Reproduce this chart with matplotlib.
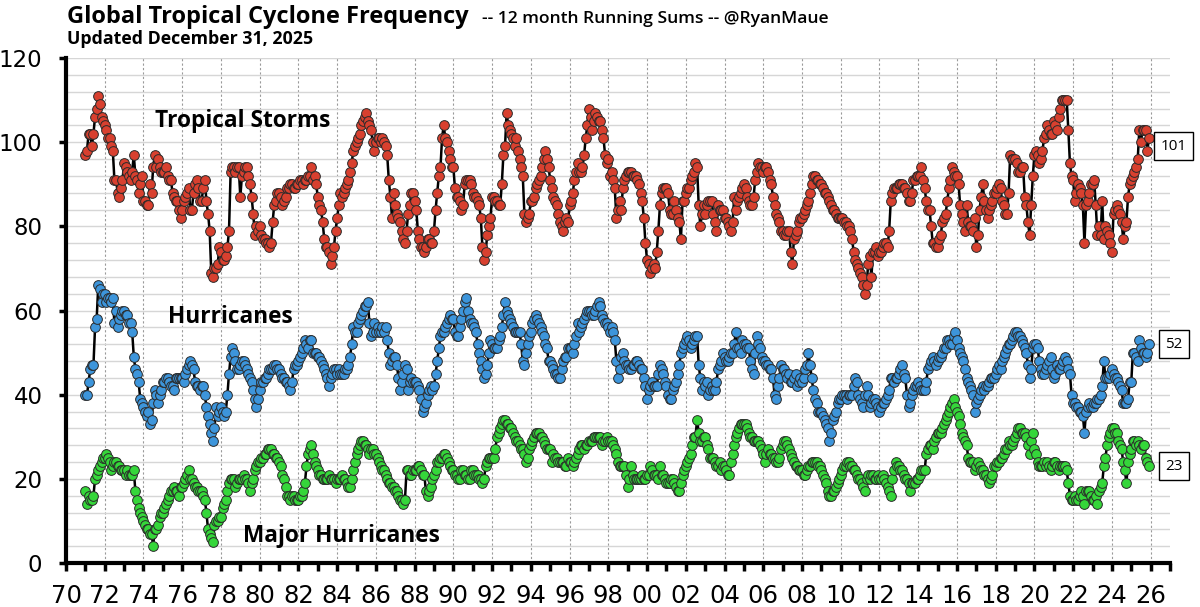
import numpy as np
import matplotlib
matplotlib.use('Agg')
from matplotlib import pyplot as plt
from matplotlib.ticker import MultipleLocator, FixedLocator

# 12 month running sums, monthly, Jan 1971 .. Dec 2025 (one row per year)
start_year = 1971

tropical_storms = [
    97, 98, 102, 102, 99, 102, 106, 108, 111, 109, 106, 105,   # 1971
    104, 103, 101, 101, 99, 98, 91, 91, 88, 87, 89, 91,
    95, 94, 93, 92, 91, 93, 97, 92, 91, 88, 90, 92,
    86, 86, 85, 85, 90, 88, 94, 97, 94, 96, 94, 93,
    93, 93, 94, 92, 91, 91, 88, 87, 86, 86, 84, 82,           # 1975
    84, 86, 87, 88, 89, 84, 84, 88, 90, 91, 89, 86,
    86, 89, 91, 86, 83, 79, 69, 68, 70, 70, 71, 75,
    74, 72, 72, 73, 75, 79, 93, 94, 94, 93, 94, 94,
    87, 92, 93, 94, 94, 92, 90, 87, 83, 78, 80, 79,
    80, 78, 77, 77, 76, 76, 75, 76, 81, 85, 86, 88,           # 1980
    88, 87, 85, 86, 87, 89, 89, 90, 90, 89, 89, 90,
    90, 91, 91, 90, 91, 91, 92, 92, 94, 91, 92, 90,
    87, 85, 84, 81, 77, 75, 75, 74, 71, 73, 75, 79,
    82, 85, 88, 87, 88, 89, 90, 91, 93, 95, 98, 99,
    100, 101, 102, 104, 105, 106, 107, 105, 104, 103, 100, 98, # 1985
    100, 101, 101, 100, 101, 100, 99, 97, 91, 87, 82, 88,
    85, 83, 82, 81, 79, 77, 76, 79, 83, 85, 88, 88,
    86, 84, 79, 77, 75, 75, 74, 75, 77, 77, 76, 76,
    79, 84, 88, 92, 94, 101, 104, 101, 100, 98, 96, 94,
    94, 89, 87, 87, 86, 84, 85, 90, 91, 91, 91, 90,           # 1990
    88, 87, 87, 86, 85, 82, 75, 72, 74, 78, 80, 82,
    87, 87, 86, 86, 85, 85, 90, 97, 99, 107, 104, 103,
    102, 101, 99, 101, 98, 96, 94, 92, 83, 81, 82, 83,
    86, 86, 87, 89, 90, 91, 92, 94, 96, 98, 96, 94,
    91, 89, 87, 86, 85, 83, 81, 80, 79, 81, 82, 81,           # 1995
    85, 86, 88, 91, 93, 95, 93, 93, 94, 97, 101, 104,
    108, 106, 103, 105, 107, 106, 105, 105, 103, 101, 97, 95,
    96, 92, 93, 91, 89, 82, 84, 86, 84, 89, 91, 92,
    93, 93, 93, 92, 92, 92, 91, 90, 88, 86, 82, 76,
    72, 71, 69, 70, 71, 70, 74, 79, 85, 88, 89, 89,           # 2000
    89, 88, 84, 83, 83, 86, 84, 82, 81, 77, 86, 86,
    88, 89, 89, 91, 92, 93, 95, 94, 85, 80, 83, 85,
    83, 85, 86, 86, 86, 83, 81, 79, 85, 84, 84, 84,
    82, 82, 81, 80, 79, 81, 87, 84, 86, 87, 88, 89,
    90, 89, 87, 86, 85, 85, 87, 91, 93, 95, 94, 94,           # 2005
    93, 94, 94, 93, 91, 90, 87, 85, 83, 82, 81, 79,
    79, 78, 78, 79, 79, 74, 71, 77, 78, 79, 81, 82,
    82, 83, 84, 85, 86, 88, 90, 92, 92, 91, 91, 90,
    90, 89, 88, 88, 87, 86, 85, 84, 84, 83, 82, 82,
    82, 82, 81, 81, 80, 80, 79, 77, 74, 72, 71, 70,           # 2010
    69, 68, 66, 64, 66, 71, 73, 68, 74, 74, 75, 73,
    74, 74, 75, 76, 76, 75, 79, 86, 88, 89, 89, 89,
    90, 90, 90, 89, 89, 88, 86, 86, 88, 91, 91, 92,
    92, 92, 94, 91, 89, 86, 84, 84, 80, 76, 76, 75,
    75, 77, 78, 81, 82, 83, 86, 89, 91, 94, 93, 92,           # 2015
    92, 90, 85, 83, 81, 79, 85, 81, 80, 80, 79, 82,
    75, 78, 84, 87, 90, 86, 84, 82, 84, 85, 86, 88,
    88, 89, 90, 89, 86, 85, 83, 83, 88, 97, 96, 96,
    96, 95, 93, 93, 94, 94, 87, 85, 81, 78, 85, 92,
    97, 98, 97, 95, 96, 98, 101, 102, 104, 103, 102, 102,     # 2020
    105, 104, 103, 106, 108, 110, 110, 110, 110, 103, 95, 92,
    91, 86, 88, 90, 89, 88, 85, 76, 85, 86, 88, 90,
    90, 91, 85, 78, 80, 78, 86, 77, 80, 79, 78, 76,
    74, 83, 84, 85, 84, 83, 81, 77, 80, 81, 87, 90,
    91, 92, 93, 94, 96, 103, 100, 103, 103, 103, 98, 101,     # 2025
]

hurricanes = [
    40, 40, 43, 46, 47, 47, 56, 58, 66, 65, 62, 64,           # 1971
    64, 62, 63, 63, 62, 63, 57, 60, 56, 58, 59, 60,
    60, 59, 59, 57, 57, 55, 49, 46, 45, 43, 39, 38,
    37, 36, 35, 36, 33, 34, 38, 41, 40, 38, 40, 41,
    43, 43, 44, 44, 43, 42, 42, 41, 44, 44, 44, 44,           # 1975
    44, 43, 45, 46, 47, 48, 47, 46, 43, 42, 42, 41,
    42, 42, 40, 37, 35, 33, 31, 29, 32, 37, 35, 36,
    37, 36, 35, 36, 40, 45, 49, 51, 50, 48, 46, 46,
    47, 48, 48, 47, 46, 45, 44, 43, 41, 39, 37, 39,
    41, 43, 43, 44, 44, 45, 46, 46, 46, 47, 47, 46,           # 1980
    46, 45, 44, 44, 43, 43, 42, 41, 43, 46, 47, 47,
    48, 49, 50, 51, 53, 52, 51, 53, 53, 50, 50, 50,
    49, 49, 48, 47, 46, 45, 44, 42, 44, 45, 46, 46,
    45, 46, 45, 45, 45, 46, 46, 47, 49, 52, 56, 55,
    55, 57, 58, 59, 60, 61, 61, 62, 57, 54, 55, 57,           # 1985
    55, 56, 55, 55, 56, 55, 56, 53, 50, 47, 48, 49,
    49, 47, 44, 41, 43, 45, 47, 46, 41, 43, 44, 43,
    43, 43, 42, 41, 39, 36, 37, 38, 40, 41, 42, 41,
    42, 45, 48, 51, 54, 55, 55, 56, 57, 58, 59, 58,
    58, 55, 54, 54, 56, 58, 60, 62, 63, 60, 58, 57,           # 1990
    57, 56, 55, 52, 50, 48, 46, 44, 45, 47, 50, 53,
    52, 51, 51, 51, 53, 54, 56, 59, 62, 60, 59, 58,
    57, 56, 55, 55, 55, 55, 52, 48, 47, 50, 52, 54,
    55, 57, 58, 59, 58, 57, 56, 55, 54, 52, 51, 48,
    48, 47, 46, 45, 45, 44, 44, 46, 48, 49, 49, 51,           # 1995
    51, 51, 50, 52, 54, 57, 55, 56, 57, 58, 59, 60,
    60, 60, 59, 59, 60, 61, 62, 61, 59, 58, 57, 57,
    56, 55, 56, 55, 53, 48, 44, 46, 49, 50, 48, 47,
    47, 46, 46, 47, 47, 48, 48, 47, 46, 46, 44, 42,
    39, 41, 42, 43, 42, 42, 42, 45, 47, 46, 45, 43,           # 2000
    42, 40, 39, 39, 41, 42, 43, 45, 47, 50, 51, 52,
    53, 54, 53, 51, 52, 53, 54, 54, 47, 44, 41, 43,
    42, 43, 40, 41, 42, 41, 41, 43, 46, 47, 48, 50,
    49, 48, 48, 49, 50, 50, 52, 55, 51, 51, 50, 53,
    52, 52, 51, 51, 48, 46, 45, 50, 54, 52, 51, 49,           # 2005
    48, 48, 47, 47, 46, 46, 44, 40, 39, 42, 44, 47,
    46, 46, 45, 44, 45, 43, 43, 44, 45, 42, 43, 44,
    43, 44, 46, 47, 50, 47, 44, 41, 39, 38, 36, 36,
    36, 35, 34, 33, 32, 29, 31, 34, 35, 36, 38, 39,
    39, 40, 40, 40, 39, 40, 40, 40, 42, 44, 43, 40,           # 2010
    39, 38, 37, 40, 42, 40, 37, 38, 39, 39, 38, 37,
    36, 37, 38, 38, 39, 40, 41, 44, 44, 43, 44, 44,
    45, 46, 47, 45, 44, 40, 37, 38, 40, 41, 42, 42,
    43, 42, 41, 41, 41, 43, 46, 47, 48, 49, 48, 47,
    48, 49, 49, 50, 51, 51, 53, 53, 52, 52, 54, 55,           # 2015
    53, 51, 50, 49, 48, 46, 44, 43, 42, 41, 40, 36,
    38, 39, 40, 41, 42, 41, 42, 42, 43, 44, 44, 44,
    45, 46, 47, 46, 48, 49, 50, 51, 52, 52, 53, 54,
    55, 55, 54, 54, 53, 52, 51, 50, 47, 44, 46, 51,
    52, 52, 51, 48, 46, 45, 45, 46, 47, 48, 49, 46,           # 2020
    44, 45, 47, 46, 46, 47, 48, 49, 48, 46, 45, 40,
    38, 38, 37, 37, 36, 36, 35, 31, 36, 37, 38, 37,
    37, 38, 38, 39, 39, 40, 42, 48, 44, 44, 44, 45,
    46, 45, 44, 44, 43, 42, 41, 38, 38, 38, 39, 43,
    43, 50, 50, 49, 48, 53, 51, 50, 50, 49, 50, 52,           # 2025
]

major_hurricanes = [
    17, 14, 16, 15, 15, 16, 20, 21, 22, 23, 24, 25,           # 1971
    25, 26, 25, 24, 22, 23, 24, 24, 23, 23, 22, 22,
    22, 21, 22, 21, 21, 21, 22, 17, 15, 13, 12, 11,
    10, 9, 8, 8, 7, 7, 4, 8, 8, 9, 11, 12,
    12, 13, 14, 15, 16, 17, 17, 18, 17, 17, 16, 18,           # 1975
    18, 19, 20, 21, 22, 20, 20, 19, 18, 18, 17, 17,
    17, 16, 15, 12, 8, 7, 6, 5, 9, 10, 10, 11,
    11, 13, 14, 15, 17, 19, 20, 20, 20, 18, 19, 20,
    20, 20, 21, 20, 20, 19, 17, 19, 20, 22, 23, 24,
    24, 25, 25, 26, 26, 27, 27, 27, 26, 26, 25, 25,           # 1980
    24, 23, 21, 20, 18, 16, 16, 15, 16, 16, 15, 15,
    15, 16, 16, 17, 19, 23, 26, 27, 28, 26, 24, 23,
    22, 21, 21, 20, 20, 20, 20, 21, 20, 20, 20, 19,
    20, 20, 20, 21, 20, 20, 19, 18, 18, 20, 22, 24,
    26, 27, 28, 29, 29, 28, 28, 27, 26, 27, 27, 26,           # 1985
    26, 25, 24, 23, 22, 22, 21, 20, 19, 19, 18, 18,
    17, 17, 16, 15, 15, 14, 15, 22, 22, 21, 21, 22,
    22, 22, 23, 23, 22, 21, 21, 17, 16, 17, 18, 20,
    21, 22, 24, 24, 25, 25, 26, 26, 25, 24, 23, 22,
    22, 21, 21, 20, 20, 22, 22, 21, 21, 20, 20, 22,           # 1990
    22, 21, 21, 21, 20, 20, 19, 20, 23, 24, 25, 25,
    25, 25, 27, 30, 31, 32, 33, 34, 34, 33, 33, 32,
    32, 31, 30, 29, 29, 28, 27, 27, 26, 24, 25, 27,
    28, 29, 30, 31, 31, 31, 30, 30, 29, 28, 27, 27,
    27, 24, 26, 25, 25, 24, 24, 24, 24, 23, 23, 25,           # 1995
    24, 24, 23, 24, 25, 26, 27, 28, 28, 27, 28, 28,
    29, 29, 29, 30, 30, 30, 30, 30, 28, 29, 29, 30,
    29, 29, 29, 28, 27, 26, 24, 23, 23, 23, 23, 21,
    18, 20, 23, 21, 20, 20, 20, 20, 20, 21, 20, 20,
    21, 21, 23, 22, 21, 21, 21, 20, 23, 21, 21, 20,           # 2000
    19, 19, 19, 20, 20, 19, 18, 17, 17, 19, 21, 22,
    23, 24, 25, 26, 28, 30, 30, 34, 31, 29, 29, 30,
    30, 28, 27, 25, 25, 25, 24, 23, 23, 24, 22, 23,
    23, 22, 21, 21, 24, 26, 28, 30, 31, 32, 33, 33,
    33, 33, 32, 31, 30, 30, 29, 29, 29, 29, 28, 27,           # 2005
    26, 24, 26, 27, 26, 26, 25, 25, 24, 24, 25, 27,
    28, 29, 29, 28, 27, 26, 25, 24, 23, 23, 22, 22,
    22, 21, 21, 22, 23, 23, 24, 24, 24, 24, 23, 23,
    22, 21, 20, 19, 17, 16, 16, 17, 17, 18, 19, 20,
    21, 22, 23, 23, 24, 24, 23, 23, 22, 22, 21, 20,           # 2010
    20, 19, 18, 17, 20, 21, 20, 21, 21, 20, 20, 21,
    20, 20, 21, 20, 19, 18, 17, 16, 20, 22, 24, 23,
    23, 22, 22, 21, 20, 20, 19, 17, 19, 19, 19, 20,
    20, 21, 22, 22, 22, 26, 27, 28, 28, 27, 29, 30,
    31, 31, 31, 32, 33, 34, 35, 36, 37, 38, 39, 37,           # 2015
    36, 35, 33, 31, 30, 29, 28, 25, 24, 24, 24, 22,
    23, 24, 23, 22, 22, 21, 21, 20, 19, 20, 21, 23,
    23, 24, 24, 25, 25, 26, 27, 27, 29, 28, 28, 29,
    30, 31, 32, 32, 31, 31, 31, 30, 28, 26, 29, 31,
    27, 26, 24, 23, 23, 23, 24, 23, 24, 23, 22, 23,           # 2020
    24, 24, 23, 22, 23, 23, 23, 23, 22, 19, 16, 15,
    15, 16, 15, 15, 16, 17, 16, 14, 17, 17, 17, 16,
    15, 15, 16, 14, 17, 18, 19, 23, 25, 28, 30, 31,
    32, 32, 31, 31, 29, 28, 27, 24, 22, 19, 24, 26,
    27, 29, 29, 28, 29, 28, 27, 28, 28, 25, 24, 23,           # 2025
]

series_names = ['Tropical Storms', 'Hurricanes', 'Major Hurricanes']
series_colors = ['#d8402f', '#3d95db', '#35d63a']

n_years = len(tropical_storms) // 12
t = (np.arange(start_year, start_year + n_years)[:, None] + np.arange(12) / 12).ravel()

plt.rcParams['font.family'] = ['Open Sans', 'DejaVu Sans']

fig = plt.figure(figsize=(12, 6.07), dpi=100)
ax = fig.add_axes([66 / 1200, 1 - 563 / 607, (1170 - 66) / 1200, (563 - 58) / 607])

for vals, col in zip([tropical_storms, hurricanes, major_hurricanes], series_colors):
    ax.plot(t, vals, color='black', lw=1.8, marker='o', ms=7,
            mfc=col, mec='#2a2a2a', mew=0.7, zorder=3)

ax.set_xlim(1970, 2027)
ax.set_ylim(0, 120)

# ticks
ax.xaxis.set_major_locator(FixedLocator(np.arange(1970, 2027, 2)))
ax.xaxis.set_minor_locator(FixedLocator(np.arange(1971, 2028, 2)))
ax.set_xticklabels(['%02d' % (y % 100) for y in range(1970, 2027, 2)])
ax.yaxis.set_major_locator(MultipleLocator(20))
ax.yaxis.set_minor_locator(MultipleLocator(4))

ax.tick_params(axis='x', which='major', length=6, width=2.5, pad=9)
ax.tick_params(axis='x', which='minor', length=6, width=2.5)
ax.tick_params(axis='y', which='major', length=5, width=2.5, pad=12)
ax.tick_params(axis='y', which='minor', length=0)
for lab in ax.get_xticklabels():
    lab.set_fontfamily('DejaVu Sans')
    lab.set_fontsize(17.5)
for lab in ax.get_yticklabels():
    lab.set_fontfamily('DejaVu Sans')
    lab.set_fontsize(16.5)

for s in ['top', 'right']:
    ax.spines[s].set_visible(False)
for s in ['left', 'bottom']:
    ax.spines[s].set_linewidth(3)

# grid
ax.grid(axis='y', which='both', color='#d6d6d6', lw=1.0)
ax.grid(axis='x', which='major', color='#9a9a9a', lw=0.8, ls=(0, (2, 2)))
ax.set_axisbelow(True)

# series labels
lab_kw = dict(fontsize=16.3, fontweight='bold', va='center', ha='left')
ax.text(1974.6, 105, 'Tropical Storms', **lab_kw)
ax.text(1975.27, 58.5, 'Hurricanes', **lab_kw)
ax.text(1979.14, 6.4, 'Major Hurricanes', **lab_kw)

# last value boxes
label_y = [tropical_storms[-1] - 2, hurricanes[-1], major_hurricanes[-1]]
for vals, yy in zip([tropical_storms, hurricanes, major_hurricanes], label_y):
    ax.text(2027.2, yy, str(vals[-1]), fontsize=11, ha='center', va='center', clip_on=False,
            bbox=dict(boxstyle='square,pad=0.42', fc='white', ec='black', lw=1))

# titles
fig.text(67 / 1200, 1 - 23 / 607, 'Global Tropical Cyclone Frequency',
         fontsize=17, fontweight='bold', va='baseline')
fig.text(482 / 1200, 1 - 23 / 607, '-- 12 month Running Sums -- @RyanMaue',
         fontsize=12.6, fontweight='semibold', va='baseline')
fig.text(67 / 1200, 1 - 44 / 607, 'Updated December 31, 2025', fontsize=12.8, fontweight='bold',
         va='baseline')

plt.savefig('out.png', dpi=100)
